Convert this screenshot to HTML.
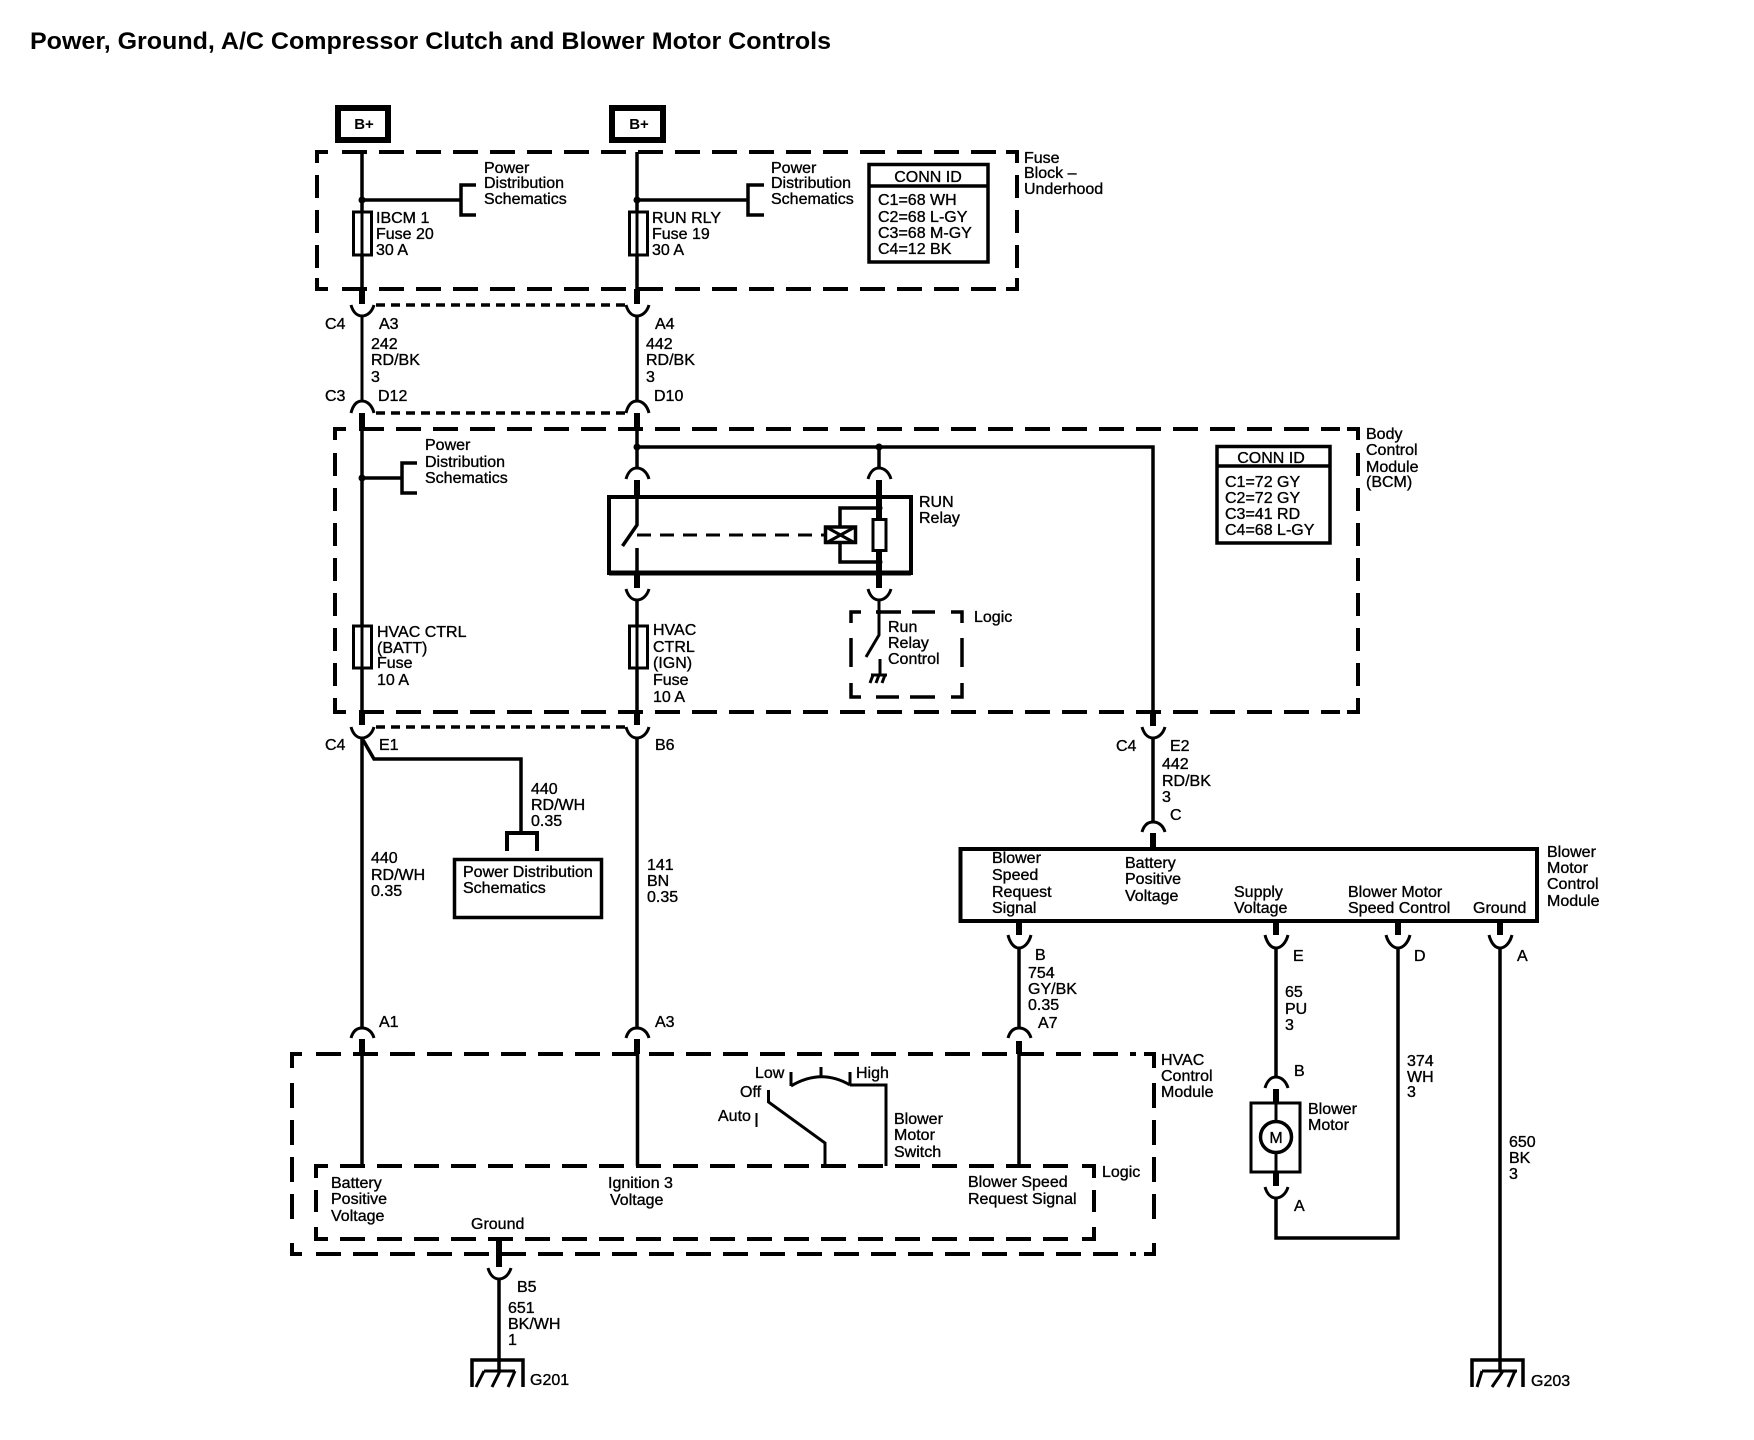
<!DOCTYPE html>
<html><head><meta charset="utf-8"><title>Power, Ground, A/C Compressor Clutch and Blower Motor Controls</title>
<style>
html,body{margin:0;padding:0;background:#fff}
svg{display:block}
text{font-family:"Liberation Sans",sans-serif;font-size:16px;fill:#000;stroke:#000;stroke-width:.35}
.w{stroke:#000;stroke-width:3.5;fill:none}
.t{stroke:#000;stroke-width:6;fill:none}
.b{stroke:#000;stroke-width:4;fill:none}
.d{stroke:#000;stroke-width:4;fill:none;stroke-dasharray:25 12}
.v{stroke:#000;stroke-width:4;fill:none;stroke-dasharray:23 12}
.c{stroke:#000;stroke-width:4;fill:none}
.s{stroke:#000;stroke-width:3.5;fill:none;stroke-dasharray:9 6}
.a{stroke:#000;stroke-width:3;fill:none}
</style></head><body>
<svg xmlns="http://www.w3.org/2000/svg" width="1754" height="1440" viewBox="0 0 1754 1440">
<rect width="1754" height="1440" fill="#fff"/>
<text x="30" y="49" style="font-size:24px;font-weight:bold;stroke-width:0" textLength="801" lengthAdjust="spacingAndGlyphs">Power, Ground, A/C Compressor Clutch and Blower Motor Controls</text>

<!-- B+ -->
<rect x="338" y="108" width="50" height="32" fill="none" stroke="#000" stroke-width="6"/>
<rect x="612" y="108" width="51" height="32" fill="none" stroke="#000" stroke-width="6"/>
<text x="364" y="129" text-anchor="middle" style="font-weight:bold;font-size:15px;stroke-width:0">B+</text>
<text x="639" y="129" text-anchor="middle" style="font-weight:bold;font-size:15px;stroke-width:0">B+</text>

<!-- fuse block dashed -->
<path class="c" d="M328 152H317V163M1006 152H1017V163M328 289H317V278M1006 289H1017V278"/>
<path class="d" d="M342 152H1000M342 289H1000"/>
<path class="v" d="M317 175V270M1017 175V270"/>
<!-- BCM dashed -->
<path class="c" d="M346 429H335V440M1347 429H1358V440M346 712H335V698M1347 712H1358V698"/>
<path class="d" d="M359 429H1340M359 712H1340"/>
<path class="v" d="M335 453V688M1358 453V688"/>
<!-- HVAC dashed -->
<path class="c" d="M302 1054H292V1068M1144 1054H1154V1068M302 1254H292V1243M1144 1254H1154V1243"/>
<path class="d" d="M316 1054H1136M316 1254H1136"/>
<path class="d" d="M292 1083V1225M1154 1083V1225"/>
<!-- Logic dashed -->
<path class="c" d="M328 1166H316V1178M1082 1166H1094V1178M328 1239H316V1227M1082 1239H1094V1227"/>
<path class="d" d="M340 1166H1075M340 1239H1075"/>
<path class="c" d="M316 1190V1212M1094 1190V1212"/>
<!-- run relay logic dashed -->
<path class="c" d="M861 612H851V623M951 612H962V623M861 697H851V683M951 697H962V683" style="stroke-width:3.500"/>
<path class="c" d="M876 612H901M912 612H935M876 697H899M910 697H935M851 638V667M962 638V667" style="stroke-width:3.500"/>

<!-- fuse block wires -->
<path class="w" d="M362 152V289"/><path class="w" d="M637 152V289"/>
<circle cx="362" cy="200" r="3.500"/><circle cx="637" cy="200" r="3.500"/>
<path class="w" d="M362 200H461"/><path class="w" d="M637 200H748"/>
<path class="w" d="M476 185H461V215H476"/><path class="w" d="M764 185H748V215H764"/>
<rect x="353.500" y="212" width="18" height="43" fill="#fff" stroke="#000" stroke-width="3"/>
<rect x="629.500" y="212" width="18" height="43" fill="#fff" stroke="#000" stroke-width="3"/>
<path class="a" d="M362 212V255M637 212V255"/>
<rect x="869" y="164.500" width="119" height="97.500" fill="#fff" stroke="#000" stroke-width="3.500"/>
<path class="w" d="M868 186H989"/>

<!-- connectors C4 A3/A4 -->
<path class="t" d="M362 289V304M637 289V304M362 413V429M637 413V429"/>
<path class="a" d="M351 305C353 312 357 316 362 316C367 316 372 312 374 305"/>
<path class="a" d="M626 305C628 312 632 316 637 316C642 316 647 312 649 305"/>
<path class="s" d="M376 305H625M376 413H625"/>
<path class="w" d="M362 316V401" style="stroke-width:3"/><path class="w" d="M637 316V401"/>
<path class="a" d="M351 413C353 405 357 401 362 401C367 401 372 405 374 413"/>
<path class="a" d="M626 413C628 405 632 401 637 401C642 401 647 405 649 413"/>

<!-- BCM wires -->
<path class="w" d="M362 429V712"/>
<path class="w" d="M637 429V468"/>
<path class="w" d="M637 447H1153V712"/>
<circle cx="637" cy="447" r="3.500"/><circle cx="879" cy="447" r="3.500"/>
<path class="w" d="M879 447V468"/>
<circle cx="362" cy="478" r="3.500"/>
<path class="w" d="M362 478H402"/><path class="w" d="M417 463H402V493H417"/>
<path class="a" d="M626 479C628 472 632 468 637 468C642 468 647 472 649 479"/>
<path class="a" d="M868 479C870 472 874 468 879 468C884 468 889 472 891 479"/>
<path class="t" d="M637 480V497M879 480V519M637 573V588M879 551V588"/>

<!-- relay -->
<path class="b" d="M609 497H911V573H609Z"/><path class="b" d="M609 573H911" style="stroke-width:5"/>
<path class="w" d="M637 497V525L622.500 546M637 548V573"/>
<path d="M637 535H824" stroke="#000" stroke-width="3" stroke-dasharray="14 9" fill="none"/>
<rect x="825.500" y="527" width="30" height="15.500" fill="#fff" stroke="#000" stroke-width="3.500"/>
<path class="a" d="M826 527L855 543M855 527L826 543"/>
<rect x="873" y="519.500" width="13" height="31" fill="#fff" stroke="#000" stroke-width="3"/>
<path class="w" d="M879 508H840V526M840 543V562H879"/>
<circle cx="879" cy="508" r="3.500"/><circle cx="879" cy="562" r="3.500"/>
<path class="a" d="M626 589C628 596 632 600 637 600C642 600 647 596 649 589"/>
<path class="a" d="M868 589C870 596 874 600 879 600C884 600 889 596 891 589"/>
<path class="w" d="M637 600V712"/>
<path class="w" d="M879 600V635L866 657" style="stroke-width:3"/>
<circle cx="879" cy="612" r="2.500"/>
<path class="w" d="M880 659V675" style="stroke-width:3"/>
<path class="a" d="M871 675H887M873 675L870 683M879 675L876 683M885 675L882 683"/>
<rect x="353.500" y="626" width="18" height="42" fill="#fff" stroke="#000" stroke-width="3"/>
<rect x="629.500" y="626" width="18" height="42" fill="#fff" stroke="#000" stroke-width="3"/>
<path class="a" d="M362 626V668M637 626V668"/>
<rect x="1217" y="446.500" width="113" height="96.500" fill="#fff" stroke="#000" stroke-width="3.500"/>
<path class="w" d="M1216 466H1331"/>

<!-- BCM lower connectors -->
<path class="t" d="M362 712V725M637 712V725M1153 712V726"/>
<path class="a" d="M351 727C353 734 357 738 362 738C367 738 372 734 374 727"/>
<path class="a" d="M626 727C628 734 632 738 637 738C642 738 647 734 649 727"/>
<path class="a" d="M1142 727C1144 734 1148 738 1153 738C1158 738 1163 734 1165 727"/>
<path class="s" d="M376 727H625"/>
<path class="w" d="M362 738V1028"/><path class="w" d="M637 738V1028"/><path class="w" d="M1153 738V822"/>
<path class="w" d="M363 740L374 759H521V833"/>
<path class="w" d="M507 851V833H537V851" style="stroke-width:4"/>
<rect x="454.500" y="859.500" width="147" height="58" fill="#fff" stroke="#000" stroke-width="3.500"/>

<!-- HVAC caps -->
<path class="a" d="M351 1038C353 1031 357 1028 362 1028C367 1028 372 1031 374 1038"/>
<path class="a" d="M626 1038C628 1031 632 1028 637 1028C642 1028 647 1031 649 1038"/>
<path class="a" d="M1008 1038C1010 1031 1014 1028 1019 1028C1024 1028 1029 1031 1031 1038"/>
<path class="t" d="M362 1039V1054M637 1039V1054M1019 1041V1054"/>
<path class="w" d="M362 1054V1166"/><path class="w" d="M637.500 1054V1166"/><path class="w" d="M1019 1054V1166"/>
<!-- switch -->
<path class="w" d="M791 1072V1086" style="stroke-width:3"/>
<path class="a" d="M791 1086Q821 1068 850 1085"/>
<path class="a" d="M821 1067V1077M850 1072V1085"/>
<path class="w" d="M850 1085H886V1166" style="stroke-width:3"/>
<path class="w" d="M768.500 1090V1102L825 1143V1166" style="stroke-width:3"/>
<path class="a" d="M756.500 1113V1127" style="stroke-width:2"/>
<!-- blower module -->
<path class="a" d="M1142 832C1144 825 1148 822 1153 822C1158 822 1163 825 1165 832"/>
<path class="t" d="M1153 833V847"/>
<path class="b" d="M960.500 849H1537V921H960.500Z"/>
<path class="t" d="M1019 921V935M1276 921V935M1398 921V935M1500 921V935"/>
<path class="a" d="M1008 935C1010 943 1014 948 1019 948C1024 948 1029 943 1031 935"/>
<path class="a" d="M1265 935C1267 943 1271 948 1276 948C1281 948 1286 943 1288 935"/>
<path class="a" d="M1386 935C1388 943 1393 948 1398 948C1403 948 1408 943 1410 935"/>
<path class="a" d="M1489 935C1491 943 1495 948 1500 948C1505 948 1510 943 1512 935"/>
<path class="w" d="M1019 948V1028"/>
<path class="w" d="M1276 948V1077"/>
<path class="w" d="M1398 948V1238H1276V1198"/>
<path class="w" d="M1500 948V1371"/>
<path class="a" d="M1265 1088C1267 1081 1271 1077 1276 1077C1281 1077 1286 1081 1288 1088"/>
<path class="t" d="M1276 1089V1103M1276 1172V1186"/>
<rect x="1251" y="1103" width="49" height="69" fill="#fff" stroke="#000" stroke-width="3"/>
<path class="a" d="M1276 1103V1172"/>
<circle cx="1276" cy="1137" r="15.500" fill="#fff" stroke="#000" stroke-width="3.500"/>
<text x="1276" y="1143" text-anchor="middle">M</text>
<path class="a" d="M1265 1187C1267 1194 1271 1198 1276 1198C1281 1198 1286 1194 1288 1187"/>

<!-- grounds -->
<path class="t" d="M499 1239V1267"/>
<path class="a" d="M488 1268C490 1275 494 1279 499 1279C504 1279 509 1275 511 1268"/>
<path class="w" d="M499 1279V1371"/>
<path class="w" d="M472 1387V1360H523V1387"/>
<path class="a" d="M484 1371H515M484 1371L476 1387M500 1371L492 1387M515 1371L508 1387"/>
<path class="w" d="M1472 1387V1360H1523V1387"/>
<path class="a" d="M1482 1371H1517M1482 1371L1477 1387M1503 1371L1492 1387M1515 1371L1508 1387"/>

<!-- labels: fuse block -->
<text x="484" y="173">Power</text><text x="484" y="188">Distribution</text><text x="484" y="204">Schematics</text>
<text x="771" y="173">Power</text><text x="771" y="188">Distribution</text><text x="771" y="204">Schematics</text>
<text x="376" y="223">IBCM 1</text><text x="376" y="239">Fuse 20</text><text x="376" y="255">30 A</text>
<text x="652" y="223">RUN RLY</text><text x="652" y="239">Fuse 19</text><text x="652" y="255">30 A</text>
<text x="928" y="182" text-anchor="middle">CONN ID</text>
<text x="878" y="205">C1=68 WH</text><text x="878" y="222">C2=68 L-GY</text><text x="878" y="238">C3=68 M-GY</text><text x="878" y="254">C4=12 BK</text>
<text x="1024" y="163">Fuse</text><text x="1024" y="178">Block –</text><text x="1024" y="194">Underhood</text>
<text x="325" y="329">C4</text><text x="379" y="329">A3</text><text x="655" y="329">A4</text>
<text x="371" y="349">242</text><text x="371" y="365">RD/BK</text><text x="371" y="382">3</text>
<text x="646" y="349">442</text><text x="646" y="365">RD/BK</text><text x="646" y="382">3</text>
<text x="325" y="401">C3</text><text x="378" y="401">D12</text><text x="654" y="401">D10</text>

<!-- labels: BCM -->
<text x="425" y="450">Power</text><text x="425" y="467">Distribution</text><text x="425" y="483">Schematics</text>
<text x="919" y="507">RUN</text><text x="919" y="523">Relay</text>
<text x="888" y="632">Run</text><text x="888" y="648">Relay</text><text x="888" y="664">Control</text>
<text x="974" y="622">Logic</text>
<text x="377" y="637">HVAC CTRL</text><text x="377" y="653">(BATT)</text><text x="377" y="668">Fuse</text><text x="377" y="685">10 A</text>
<text x="653" y="635">HVAC</text><text x="653" y="652">CTRL</text><text x="653" y="668">(IGN)</text><text x="653" y="685">Fuse</text><text x="653" y="702">10 A</text>
<text x="1225" y="487">C1=72 GY</text><text x="1225" y="503">C2=72 GY</text><text x="1225" y="519">C3=41 RD</text><text x="1225" y="535">C4=68 L-GY</text>
<text x="1271" y="463" text-anchor="middle">CONN ID</text>
<text x="1366" y="439">Body</text><text x="1366" y="455">Control</text><text x="1366" y="472">Module</text><text x="1366" y="487">(BCM)</text>
<text x="325" y="750">C4</text><text x="379" y="750">E1</text><text x="655" y="750">B6</text>
<text x="1116" y="751">C4</text><text x="1170" y="751">E2</text>
<text x="1162" y="769">442</text><text x="1162" y="786">RD/BK</text><text x="1162" y="802">3</text>
<text x="1170" y="820">C</text>

<!-- labels: middle -->
<text x="531" y="794">440</text><text x="531" y="810">RD/WH</text><text x="531" y="826">0.35</text>
<text x="371" y="863">440</text><text x="371" y="880">RD/WH</text><text x="371" y="896">0.35</text>
<text x="647" y="870">141</text><text x="647" y="886">BN</text><text x="647" y="902">0.35</text>
<text x="463" y="877">Power Distribution</text><text x="463" y="893">Schematics</text>

<!-- labels: module -->
<text x="992" y="863">Blower</text><text x="992" y="880">Speed</text><text x="992" y="897">Request</text><text x="992" y="913">Signal</text>
<text x="1125" y="868">Battery</text><text x="1125" y="884">Positive</text><text x="1125" y="901">Voltage</text>
<text x="1234" y="897">Supply</text><text x="1234" y="913">Voltage</text>
<text x="1348" y="897">Blower Motor</text><text x="1348" y="913">Speed Control</text>
<text x="1473" y="913">Ground</text>
<text x="1547" y="857">Blower</text><text x="1547" y="873">Motor</text><text x="1547" y="889">Control</text><text x="1547" y="906">Module</text>
<text x="1035" y="960">B</text><text x="1293" y="961">E</text><text x="1414" y="961">D</text><text x="1517" y="961">A</text>
<text x="1028" y="978">754</text><text x="1028" y="994">GY/BK</text><text x="1028" y="1010">0.35</text>
<text x="1038" y="1028">A7</text>
<text x="1285" y="997">65</text><text x="1285" y="1014">PU</text><text x="1285" y="1030">3</text>
<text x="1407" y="1066">374</text><text x="1407" y="1082">WH</text><text x="1407" y="1097">3</text>
<text x="1294" y="1076">B</text><text x="1294" y="1211">A</text>
<text x="1308" y="1114">Blower</text><text x="1308" y="1130">Motor</text>
<text x="1509" y="1147">650</text><text x="1509" y="1163">BK</text><text x="1509" y="1179">3</text>
<text x="1531" y="1386">G203</text>

<!-- labels: HVAC -->
<text x="379" y="1027">A1</text><text x="655" y="1027">A3</text>
<text x="1161" y="1065">HVAC</text><text x="1161" y="1081">Control</text><text x="1161" y="1097">Module</text>
<text x="755" y="1078">Low</text><text x="856" y="1078">High</text><text x="740" y="1097">Off</text><text x="718" y="1121">Auto</text>
<text x="894" y="1124">Blower</text><text x="894" y="1140">Motor</text><text x="894" y="1157">Switch</text>
<text x="1102" y="1177">Logic</text>
<text x="331" y="1188">Battery</text><text x="331" y="1204">Positive</text><text x="331" y="1221">Voltage</text>
<text x="608" y="1188">Ignition 3</text><text x="610" y="1205">Voltage</text>
<text x="968" y="1187">Blower Speed</text><text x="968" y="1204">Request Signal</text>
<text x="471" y="1229">Ground</text>
<text x="517" y="1292">B5</text>
<text x="508" y="1313">651</text><text x="508" y="1329">BK/WH</text><text x="508" y="1345">1</text>
<text x="530" y="1385">G201</text>
</svg>
</body></html>
